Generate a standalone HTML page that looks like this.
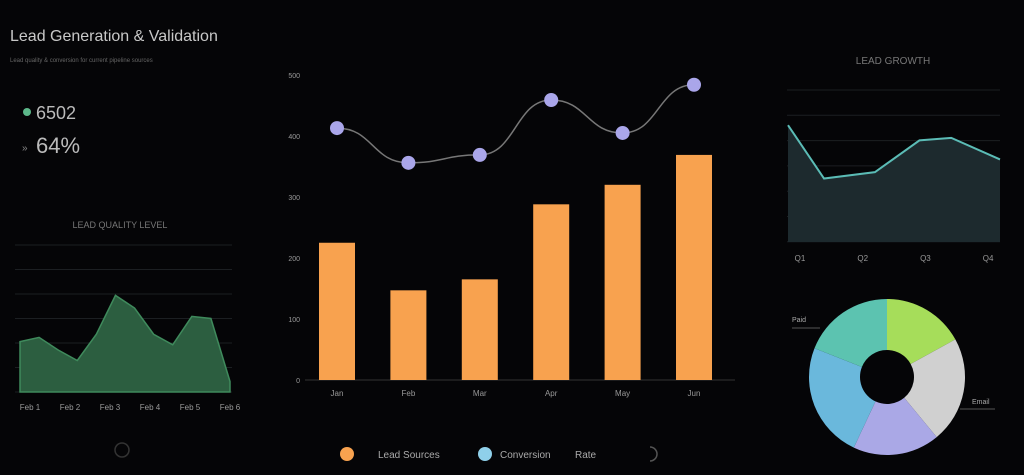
<!DOCTYPE html>
<html><head><meta charset="utf-8"><style>
body{margin:0;width:1024px;height:475px;background:#050507;overflow:hidden;font-family:"Liberation Sans",sans-serif;color:#ccc}
svg{position:absolute;left:0;top:0}
</style></head><body>
<svg width="1024" height="475">
<text x="10" y="41" font-size="16" fill="#c8c8c8">Lead Generation &amp; Validation</text>
<text x="10" y="62" font-size="6" fill="#666">Lead quality &amp; conversion for current pipeline sources</text>
<circle cx="27" cy="112" r="4" fill="#5cb88a"/>
<text x="36" y="119" font-size="18" fill="#bbb">6502</text>
<text x="22" y="151" font-size="10" fill="#888">»</text>
<text x="36" y="153" font-size="22" fill="#bbb">64%</text>
<text x="120" y="228" font-size="9" fill="#777" text-anchor="middle">LEAD QUALITY LEVEL</text>
<g id="left"></g>
<g id="mid"></g>
<text x="893" y="64" font-size="10" fill="#777" text-anchor="middle">LEAD GROWTH</text>
<g id="right"></g>
<g id="donut"></g>
<circle cx="122" cy="450" r="7" fill="none" stroke="#333" stroke-width="1.5"/>
<g>
<circle cx="347" cy="454" r="7" fill="#f8a24f"/>
<text x="378" y="458" font-size="10" fill="#aaa">Lead Sources</text>
<circle cx="485" cy="454" r="7" fill="#8fd0ea"/>
<text x="500" y="458" font-size="10" fill="#aaa">Conversion</text>
<text x="575" y="458" font-size="10" fill="#aaa">Rate</text>
<path d="M650 447 A7 7 0 0 1 650 461" fill="none" stroke="#555" stroke-width="1.5"/>
</g>
</svg>
<script>
const NS="http://www.w3.org/2000/svg";
function mk(p,t,a){const e=document.createElementNS(NS,t);for(const k in a)e.setAttribute(k,a[k]);p.appendChild(e);return e;}
// Left area chart
const leftCats=["Feb 1","Feb 2","Feb 3","Feb 4","Feb 5","Feb 6"];
const leftVals=[48,52,40,30,55,92,80,55,45,72,70,10];
const leftG=document.getElementById('left');
const lx=i=>20+i*(210/(leftVals.length-1)), ly=v=>392-v*1.05;
for(let k=0;k<7;k++){const l=mk(leftG,'line',{x1:15,x2:232,y1:245+k*24.5,y2:245+k*24.5,stroke:'#1c1f22'});}
let d='M'+lx(0)+' 392';leftVals.forEach((v,i)=>d+=' L'+lx(i)+' '+ly(v));d+=' L'+lx(leftVals.length-1)+' 392Z';
const la=mk(leftG,'path',{d:d,fill:'#2c5e40',stroke:'#3f8a5c','stroke-width':1.5});

leftCats.forEach((c,i)=>{const t=mk(leftG,'text',{x:30+i*40,y:410,'font-size':8,fill:'#999','text-anchor':'middle'});t.textContent=c;});
// Middle bar+line chart
const midCats=["Jan","Feb","Mar","Apr","May","Jun"];
const barVals=[225,147,165,288,320,369];
const lineVals=[413,356,369,459,405,484];
const yTicks=[0,100,200,300,400,500];
const mg=document.getElementById('mid');
const my=v=>380-v*0.61, mx=i=>337+i*71.4;
yTicks.forEach(v=>{const t=mk(mg,'text',{x:300,y:my(v)+3,'font-size':7,fill:'#999','text-anchor':'end'});t.textContent=v;});
const ax=mk(mg,'line',{x1:305,x2:735,y1:380,y2:380,stroke:'#333'});
barVals.forEach((v,i)=>{const r=mk(mg,'rect',{x:mx(i)-18,y:my(v),width:36,height:380-my(v),fill:'#f8a24f'});
const t=mk(mg,'text',{x:mx(i),y:396,'font-size':8,fill:'#999','text-anchor':'middle'});t.textContent=midCats[i];});
let p='M'+mx(0)+' '+my(lineVals[0]);
for(let i=1;i<lineVals.length;i++){const x0=mx(i-1),x1=mx(i),c=(x1-x0)/2;p+=` C${x0+c} ${my(lineVals[i-1])} ${x1-c} ${my(lineVals[i])} ${x1} ${my(lineVals[i])}`;}
const ln=mk(mg,'path',{d:p,fill:'none',stroke:'#777','stroke-width':1.5});
lineVals.forEach((v,i)=>{const c=mk(mg,'circle',{cx:mx(i),cy:my(v),r:7,fill:'#aaa6ea'});});
// Right area chart
const rightCats=["Q1","Q2","Q3","Q4"];
const rightX=[0,0.17,0.41,0.62,0.77,1];
const rightVals=[92,50,55,80,82,65];
const rg=document.getElementById('right');
const rx=f=>788+f*212, ry=v=>242-v*1.27;
for(let k=0;k<7;k++){const l=mk(rg,'line',{x1:787,x2:1000,y1:90+k*25.3,y2:90+k*25.3,stroke:'#1c1f22'});}
let rd='M'+rx(0)+' 242';rightVals.forEach((v,i)=>rd+=' L'+rx(rightX[i])+' '+ry(v));rd+=' L1000 242Z';
const ra=mk(rg,'path',{d:rd,fill:'#1d2a2e'});
let rl='M'+rx(0)+' '+ry(rightVals[0]);rightVals.forEach((v,i)=>rl+=' L'+rx(rightX[i])+' '+ry(v));
const rln=mk(rg,'path',{d:rl,fill:'none',stroke:'#5bbcb6','stroke-width':2});
rightCats.forEach((c,i)=>{const t=mk(rg,'text',{x:800+i*62.7,y:261,'font-size':8,fill:'#999','text-anchor':'middle'});t.textContent=c;});
// Donut
const donutLabels=["Social","Email","Events","Search","Paid"];
const donutVals=[17,22,18,24,19];
const donutColors=['#a6dd5a','#d0d0d0','#aaa8e6','#6ab8dc','#5cc3b0'];
const dg=document.getElementById('donut');
const cx=887,cy=377,R=78,r0=27;const tot=donutVals.reduce((a,b)=>a+b,0);let a0=0;
donutVals.forEach((v,i)=>{const a1=a0+v/tot*2*Math.PI;const pt=(a,r)=>[cx+r*Math.sin(a),cy-r*Math.cos(a)];
const [x1,y1]=pt(a0,R),[x2,y2]=pt(a1,R),[x3,y3]=pt(a1,r0),[x4,y4]=pt(a0,r0);const lg=(a1-a0)>Math.PI?1:0;
const s=mk(dg,'path',{d:`M${x1} ${y1} A${R} ${R} 0 ${lg} 1 ${x2} ${y2} L${x3} ${y3} A${r0} ${r0} 0 ${lg} 0 ${x4} ${y4}Z`,fill:donutColors[i]});
a0=a1;});
const l1=mk(dg,'text',{x:792,y:322,'font-size':7,fill:'#aaa'});l1.textContent="Paid";
mk(dg,'line',{x1:792,x2:820,y1:328,y2:328,stroke:'#555'});
const l2=mk(dg,'text',{x:972,y:404,'font-size':7,fill:'#aaa'});l2.textContent="Email";
mk(dg,'line',{x1:960,x2:995,y1:409,y2:409,stroke:'#555'});
</script>
</body></html>
